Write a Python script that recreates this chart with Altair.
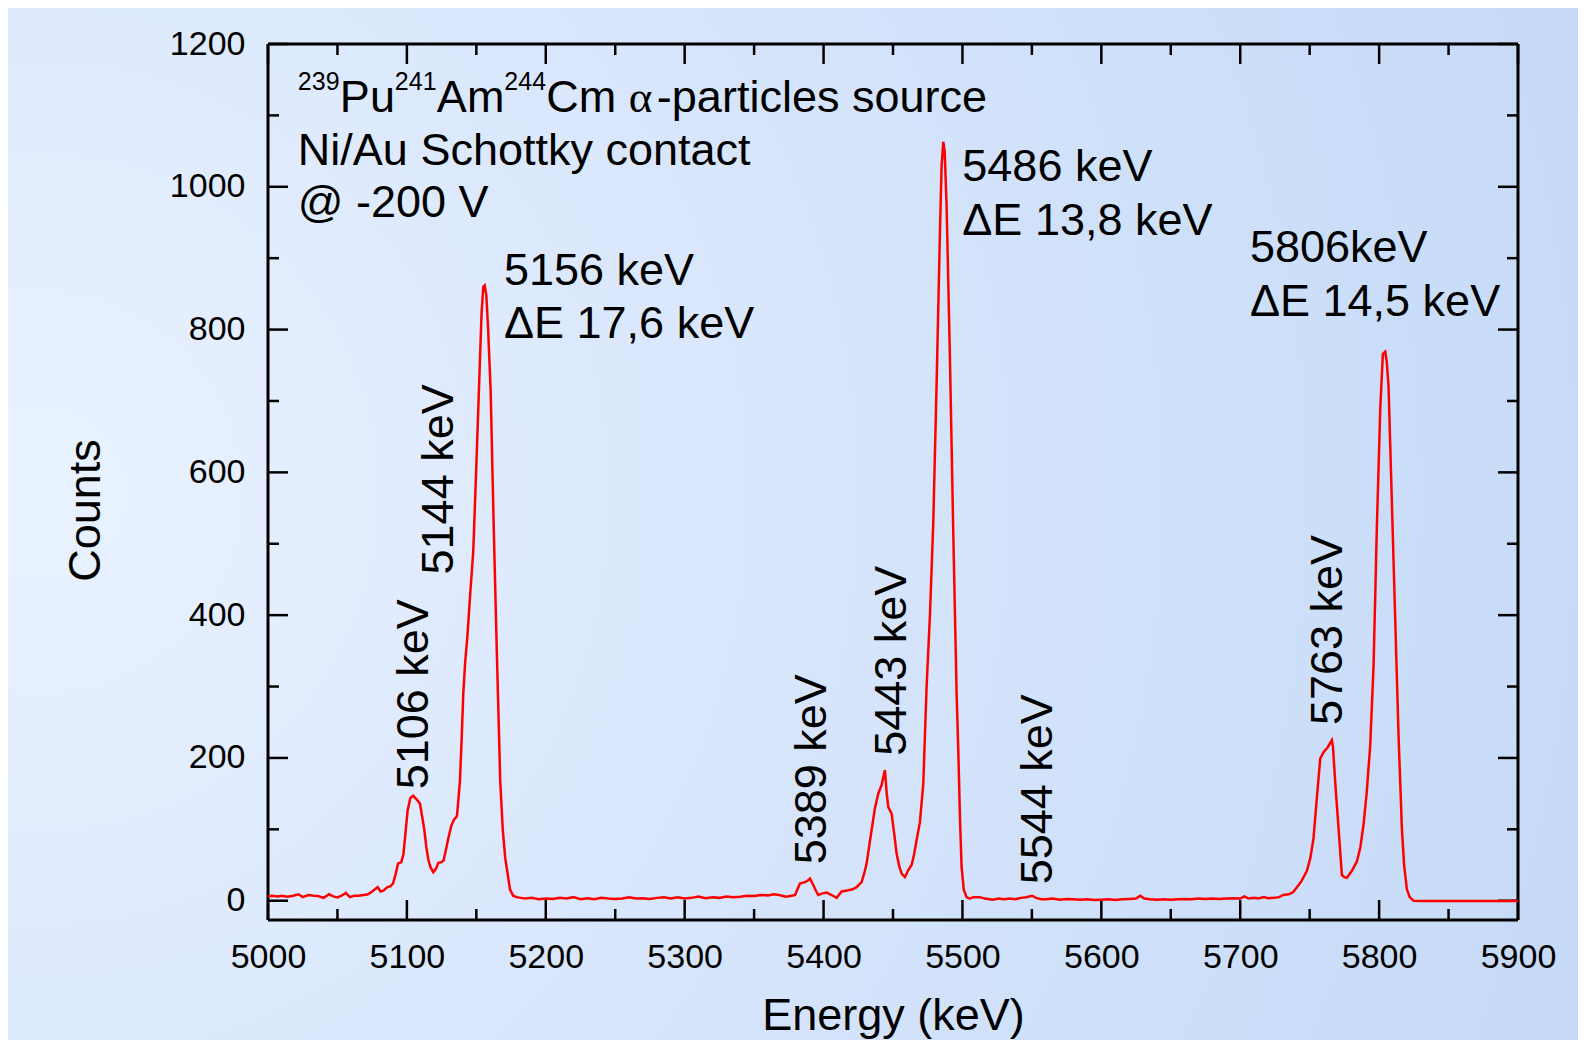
import altair as alt
import pandas as pd

# ---------------- spectrum ----------------
energy = [
    5000, 5003, 5007, 5010, 5014, 5018, 5022, 5025, 5029, 5033,
    5036, 5040, 5044, 5047, 5050, 5053, 5056, 5059, 5062, 5065,
    5069, 5072, 5075, 5077, 5079, 5081, 5083, 5086, 5088, 5090,
    5092, 5093.6, 5096, 5097.5, 5099, 5100.5, 5102.5, 5104.5, 5107, 5109.4,
    5111, 5112.5, 5114, 5115.5, 5117, 5119, 5121, 5122.6, 5125, 5126.5,
    5128.5, 5130, 5132, 5134, 5136, 5137, 5138.2, 5139.5, 5140.6, 5142,
    5143.5, 5145.4, 5147.8, 5150.2, 5152.6, 5153.8, 5155, 5156, 5157.2, 5158.5,
    5160.3, 5162.5, 5164.8, 5167.2, 5169, 5170.8, 5172.5, 5174.2, 5176.5, 5179,
    5182, 5185, 5190, 5195, 5200, 5205, 5210, 5215, 5220, 5225,
    5230, 5235, 5240, 5245, 5250, 5255, 5260, 5265, 5270, 5275,
    5280, 5285, 5290, 5295, 5300, 5305, 5310, 5315, 5320, 5325,
    5330, 5335, 5340, 5345, 5350, 5355, 5360, 5364, 5368, 5373,
    5377, 5379.5, 5381, 5383, 5386.6, 5388.5, 5390.2, 5392.6, 5394.5, 5396.2,
    5398.6, 5402.2, 5405.8, 5409.4, 5413, 5417.8, 5421, 5423.8, 5427.4, 5429.5,
    5431, 5434.6, 5437, 5439.4, 5441.8, 5443.2, 5444.2, 5445.5, 5446.6, 5449,
    5450.8, 5452.6, 5454.5, 5456.2, 5458.6, 5461, 5463.4, 5465.2, 5467, 5469.4,
    5471.8, 5474.2, 5476.6, 5479, 5481.4, 5483.8, 5485, 5486.2, 5487.2, 5488.6,
    5491, 5493.4, 5495.8, 5497, 5498.2, 5499.4, 5501, 5503, 5505, 5508,
    5512.6, 5516, 5522, 5526, 5530, 5534, 5538, 5542, 5546, 5550,
    5553, 5557, 5560, 5565, 5570, 5575, 5580, 5585, 5590, 5595,
    5600, 5605, 5610, 5615, 5620, 5625, 5628, 5631, 5635, 5640,
    5645, 5650, 5655, 5660, 5665, 5670, 5675, 5680, 5685, 5690,
    5695, 5700, 5703, 5706, 5710, 5713, 5717, 5720, 5724, 5728,
    5731, 5735, 5738, 5740.8, 5744, 5748, 5750.5, 5752.8, 5755, 5757.6,
    5760, 5763, 5766, 5766.8, 5768.4, 5770.8, 5773.2, 5775, 5776.8, 5780.4,
    5784, 5786.5, 5788.8, 5791, 5793.6, 5796, 5798.4, 5800.8, 5802.7, 5804.4,
    5805.5, 5806.8, 5809.2, 5811.6, 5814, 5816.4, 5818, 5820, 5822, 5824.8,
    5830, 5860, 5900,
]
counts = [
    6, 7, 6, 7, 5.5, 7, 9, 5, 8, 7,
    6.5, 4, 9, 6, 4.5, 7, 11, 5, 7, 7,
    8, 9, 13, 16, 19, 13, 14, 19, 20, 24,
    38, 52, 54, 65, 95, 126, 144, 147, 142, 136,
    118, 100, 75, 57, 47, 40, 45, 53, 54, 57,
    75, 89, 105, 114, 118, 140, 168, 230, 290, 335,
    369, 424, 490, 620, 757, 824, 860, 862, 848, 800,
    715, 525, 345, 168, 100, 60, 38, 16, 7, 5,
    4, 3, 4, 2, 3, 2.5, 4, 3, 5, 2,
    3.5, 2, 4, 3, 2.5, 3, 5, 3, 3.5, 2.5,
    4, 5, 3, 5, 3, 4, 6, 3.5, 5, 4,
    6, 5, 5.5, 7, 6.5, 8, 7.5, 9, 8, 5.5,
    7, 8, 15, 24, 26, 28, 31, 22, 14, 8,
    10, 11.5, 8, 4, 13, 14.7, 16, 19, 26, 40,
    52, 99, 130, 150, 162, 175, 183, 150, 131, 122,
    95, 66, 48, 38, 33, 43, 50, 65, 85, 110,
    164, 300, 400, 530, 724, 937, 1030, 1063, 1050, 973,
    759, 515, 290, 211, 117, 47, 15, 5, 3, 5,
    5, 3, 1.5, 3, 2, 3, 2, 4, 5, 7,
    4, 2, 2, 3, 1.5, 2.5, 2, 1.5, 2, 1,
    1.5, 2, 1, 2, 2.5, 3, 7, 3, 2, 1.5,
    2, 1.5, 2, 2.5, 2, 3, 2.5, 3, 2.5, 3,
    3.5, 3, 6, 3, 4, 3, 5, 3.5, 4, 5,
    8, 9, 12, 19, 27, 42, 60, 88, 140, 199,
    208, 215, 225, 215, 166, 101, 36, 33, 32, 42,
    55, 75, 107, 150, 218, 329, 525, 688, 766, 769,
    755, 720, 557, 394, 231, 101, 50, 16, 5, 0,
    -0.5, -0.5, -0.5,
]

# ---------------- axes ----------------
x_major = [5000, 5100, 5200, 5300, 5400, 5500, 5600, 5700, 5800, 5900]
x_minor = [5050, 5150, 5250, 5350, 5450, 5550, 5650, 5750, 5850]
y_major = [0, 200, 400, 600, 800, 1000, 1200]
y_minor = [100, 300, 500, 700, 900, 1100]

# ---------------- annotations ----------------
peak_text = ["5156 keV", "\u0394E 17,6 keV", "5486 keV", "\u0394E 13,8 keV",
             "5806keV", "\u0394E 14,5 keV"]
peak_energy = [5169.9, 5169.9, 5499.9, 5499.9, 5707, 5707]
peak_counts = [862, 788, 1008, 933, 895, 819.5]

line_text = ["5106 keV", "5144 keV", "5389 keV", "5443 keV", "5544 keV", "5763 keV"]
line_energy = [5115.2, 5133.4, 5402, 5459, 5564.8, 5773]
line_counts = [156, 457, 51, 203, 23, 246]

info_energy = 5021.5
info_counts = [1105, 1031, 957]

FONT = "Liberation Sans"
W, H = 1250, 876
xs = alt.Scale(domain=[5000, 5900], nice=False, zero=False)
ys = alt.Scale(domain=[-27, 1200], nice=False, zero=False)

xaxis = alt.Axis(
    values=x_major, format="d", title="Energy (keV)", ticks=False, tickSize=0,
    domain=False, grid=False, labelPadding=20, labelFontSize=34, labelFont=FONT,
    labelColor="black", labelFlush=False, labelOverlap=False,
    titleFontSize=45, titleFont=FONT, titleFontWeight="normal", titleColor="black",
    titleY=109, titleBaseline="alphabetic", zindex=1,
)
yaxis = alt.Axis(
    values=y_major, format="d", title="Counts", ticks=False, tickSize=0,
    domain=False, grid=False, labelPadding=23, labelFontSize=34, labelFont=FONT,
    labelColor="black", labelFlush=False, labelOverlap=False,
    titleFontSize=45, titleFont=FONT, titleFontWeight="normal", titleColor="black",
    titleAngle=270, titleX=-169, titleY=466, titleBaseline="alphabetic",
    titleAlign="center", zindex=1,
)


def X(field):
    return alt.X(field, type="quantitative", scale=xs, axis=xaxis)


def Y(field):
    return alt.Y(field, type="quantitative", scale=ys, axis=yaxis)


one = pd.DataFrame({"a": [0]})

bg = alt.Chart(one).mark_rect(
    color={
        "gradient": "radial",
        "x1": 0.02, "y1": 0.48, "r1": 0,
        "x2": 0.02, "y2": 0.48, "r2": 1.05,
        "stops": [
            {"offset": 0, "color": "#e9f2ff"},
            {"offset": 0.4, "color": "#dae7fc"},
            {"offset": 0.75, "color": "#cddff9"},
            {"offset": 1, "color": "#c5d9f7"},
        ],
    }
).encode(x=alt.value(-260), x2=alt.value(W + 60), y=alt.value(-36), y2=alt.value(H + 120))

spec = pd.DataFrame({"energy": energy, "counts": counts})

curve = alt.Chart(spec).mark_line(color="#ff0000", strokeWidth=2.5).encode(
    x=X("energy"), y=Y("counts"),
)

# frame
frame = [
    alt.Chart(one).mark_rule(color="black", strokeWidth=3).encode(
        x=alt.value(0), x2=alt.value(W), y=alt.value(0)),
    alt.Chart(one).mark_rule(color="black", strokeWidth=3).encode(
        x=alt.value(0), x2=alt.value(W), y=alt.value(H)),
    alt.Chart(one).mark_rule(color="black", strokeWidth=3).encode(
        x=alt.value(0), y=alt.value(0), y2=alt.value(H)),
    alt.Chart(one).mark_rule(color="black", strokeWidth=3).encode(
        x=alt.value(W), y=alt.value(0), y2=alt.value(H)),
]


def xticks(vals, length):
    d = pd.DataFrame({"energy": vals})
    b = alt.Chart(d).mark_rule(color="black", strokeWidth=2.5).encode(
        x=X("energy"), y=alt.value(H), y2=alt.value(H - length))
    t = alt.Chart(d).mark_rule(color="black", strokeWidth=2.5).encode(
        x=X("energy"), y=alt.value(0), y2=alt.value(length))
    return [b, t]


def yticks(vals, length):
    d = pd.DataFrame({"counts": vals})
    l = alt.Chart(d).mark_rule(color="black", strokeWidth=2.5).encode(
        y=Y("counts"), x=alt.value(0), x2=alt.value(length))
    r = alt.Chart(d).mark_rule(color="black", strokeWidth=2.5).encode(
        y=Y("counts"), x=alt.value(W), x2=alt.value(W - length))
    return [l, r]


ticks = xticks(x_major, 20) + xticks(x_minor, 11) + yticks(y_major, 20) + yticks(y_minor, 11)

peak_df = pd.DataFrame({"t": peak_text, "energy": peak_energy, "counts": peak_counts})
peaks = alt.Chart(peak_df).mark_text(
    align="left", baseline="alphabetic", font=FONT, fontSize=45, color="black"
).encode(x=X("energy"), y=Y("counts"), text="t:N")

line_df = pd.DataFrame({"t": line_text, "energy": line_energy, "counts": line_counts})
lines = alt.Chart(line_df).mark_text(
    align="left", baseline="alphabetic", angle=270, font=FONT, fontSize=45, color="black"
).encode(x=X("energy"), y=Y("counts"), text="t:N")

# info block (top-left)
pieces = [
    ("239", 0, -22, 25, FONT),
    ("Pu", 42, 0, 45, FONT),
    ("241", 97, -22, 25, FONT),
    ("Am", 139, 0, 45, FONT),
    ("244", 206.5, -22, 25, FONT),
    ("Cm", 248.5, 0, 45, FONT),
    ("\u03b1", 331, 0, 45, "Liberation Serif"),
    ("-particles source", 359, 0, 45, FONT),
]
info_layers = []
d1 = pd.DataFrame({"energy": [info_energy], "counts": [info_counts[0]]})
for txt, dx, dy, fs, fnt in pieces:
    info_layers.append(
        alt.Chart(d1).mark_text(
            align="left", baseline="alphabetic", font=fnt, fontSize=fs, color="black",
            dx=dx, dy=dy, text=txt,
        ).encode(x=X("energy"), y=Y("counts"))
    )
info_df = pd.DataFrame({
    "t": ["Ni/Au Schottky contact", "@ -200 V"],
    "energy": [info_energy, info_energy],
    "counts": info_counts[1:],
})
info_layers.append(
    alt.Chart(info_df).mark_text(
        align="left", baseline="alphabetic", font=FONT, fontSize=45, color="black"
    ).encode(x=X("energy"), y=Y("counts"), text="t:N")
)

chart = alt.layer(
    bg, *frame, *ticks, curve, peaks, lines, *info_layers
).properties(
    width=W, height=H,
    padding={"left": 260, "top": 36, "right": 60, "bottom": 120},
    autosize=alt.AutoSizeParams(type="none"),
).configure_view(stroke=None).configure(background="#d8e6fb")

chart.save("out.html", embed_options={"renderer": "svg", "actions": False})
